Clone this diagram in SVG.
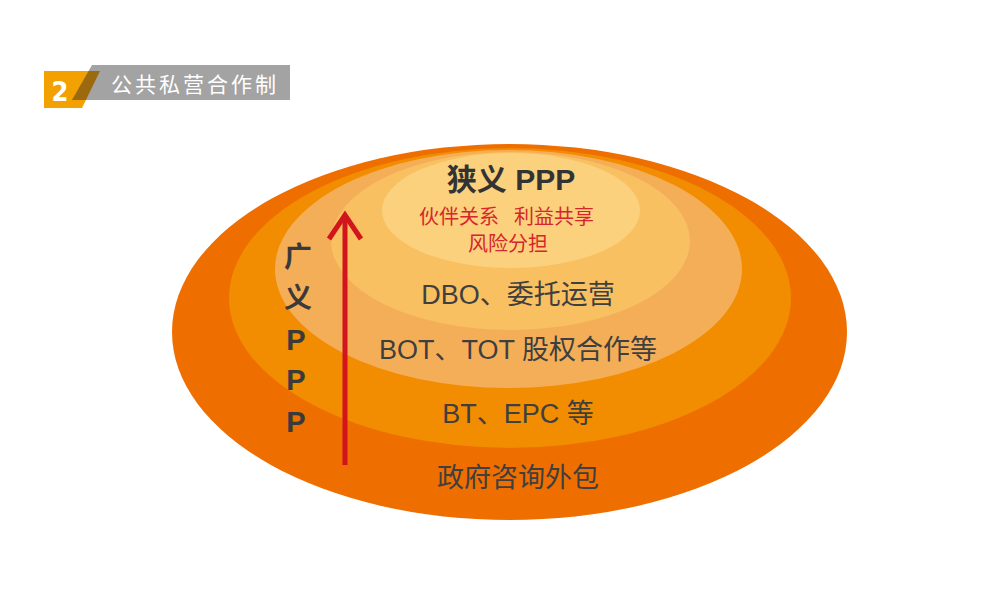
<svg xmlns="http://www.w3.org/2000/svg" width="1000" height="602" viewBox="0 0 1000 602">
<style>
.cn{font-family:"Liberation Sans","Noto Sans CJK SC",sans-serif;}
.lbl{font-size:27px;fill:#3f3f3f;text-anchor:middle;}
.red{font-size:20px;fill:#d7262b;}
.vt{font-weight:bold;fill:#3a3a3a;text-anchor:middle;}
</style>
<rect width="1000" height="602" fill="#ffffff"/>
<g id="header">
<polygon points="44,71 100,71 82,108 44,108" fill="#f2a100"/>
<polygon points="92,65 290,65 290,100 72,100" fill="#a3a3a3"/>
<polygon points="88.6,71 100,71 85.9,100 72,100" fill="#9c6a0c"/>
<text x="60" y="101" font-family="DejaVu Sans" font-stretch="condensed" font-weight="bold" font-size="27" fill="#ffffff" text-anchor="middle">2</text>
<text x="111" y="92" class="cn" font-size="21" fill="#ffffff" letter-spacing="3">公共私营合作制</text>
</g>
<g id="layer-outer">
<ellipse cx="509.5" cy="332" rx="337.5" ry="188" fill="#ee6e00"/>
<text x="518" y="487" class="cn lbl" font-size="26">政府咨询外包</text>
</g>
<g id="layer-2">
<ellipse cx="510" cy="298" rx="281" ry="150" fill="#f28c00"/>
<text x="518" y="423" class="cn lbl">BT、EPC 等</text>
</g>
<g id="layer-3">
<ellipse cx="508.5" cy="269" rx="233.5" ry="119" fill="#f5ae58"/>
<text x="518" y="359" class="cn lbl">BOT、TOT 股权合作等</text>
</g>
<g id="layer-4">
<ellipse cx="510.5" cy="241" rx="179.5" ry="89" fill="#f8c060"/>
<text x="518" y="304" class="cn lbl">DBO、委托运营</text>
</g>
<g id="layer-core">
<ellipse cx="511" cy="210.5" rx="129" ry="57.5" fill="#fbd17e"/>
<text x="511" y="190" class="cn" font-size="30" font-weight="bold" fill="#333333" text-anchor="middle">狭义 PPP</text>
<text class="cn red"><tspan x="419" y="224">伙伴关系</tspan><tspan x="514" y="224">利益共享</tspan></text>
<text x="508" y="251" class="cn red" text-anchor="middle">风险分担</text>
</g>
<g id="broad-ppp">
<text x="298" y="267" class="cn vt" font-size="28">广</text>
<text x="298" y="308" class="cn vt" font-size="28">义</text>
<text x="296" y="350" class="cn vt" font-size="29">P</text>
<text x="296" y="390" class="cn vt" font-size="29">P</text>
<text x="296" y="432" class="cn vt" font-size="29">P</text>
</g>
<g id="connectors">
<line x1="345" y1="465" x2="345" y2="217" stroke="#d2141c" stroke-width="5"/>
<polyline points="329,239 345,215 361,239" fill="none" stroke="#d2141c" stroke-width="5"/>
</g>
</svg>
